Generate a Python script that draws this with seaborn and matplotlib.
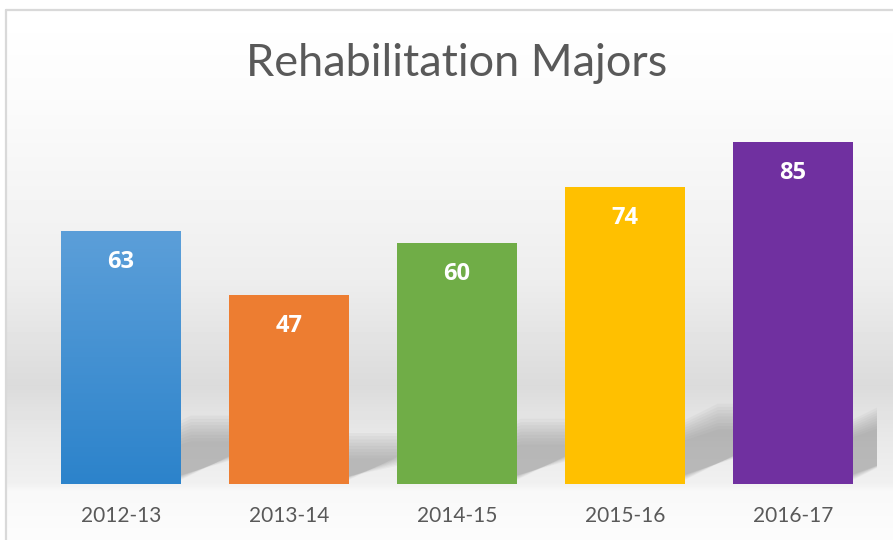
import matplotlib
matplotlib.use("Agg")

import numpy as np
import pandas as pd
import matplotlib.pyplot as plt
import seaborn as sns
from matplotlib.colors import LinearSegmentedColormap
from matplotlib.patches import Polygon

years = ["2012-13", "2013-14", "2014-15", "2015-16", "2016-17"]
majors = [63, 47, 60, 74, 85]
bar_colors = ["#4a94d4", "#ed7d31", "#70ad47", "#ffc000", "#7030a0"]
title = "Rehabilitation Majors"

sns.set_theme(style="white")
plt.rcParams["font.family"] = ["Lato", "DejaVu Sans"]

W, H = 893, 540
fig = plt.figure(figsize=(W / 100, H / 100), dpi=100)
fig.patch.set_facecolor("white")

# ---------- background: soft vertical gradient inside the chart frame ----------
bg = fig.add_axes([0, 0, 1, 1], zorder=0)
bg.set_axis_off()
stops_y = [0, 10, 100, 200, 280, 350, 385, 410, 440, 482, 490, 540]
stops_g = [255, 255, 251, 244, 237, 225, 219, 226, 233, 240, 248, 252]
rows = np.interp(np.arange(H), stops_y, stops_g) / 255.0
img = np.repeat(rows[:, None], W, axis=1)
img[:10, :] = 1.0
img[:, :7] = 1.0
bg.imshow(img, cmap="gray", vmin=0, vmax=1, extent=[0, W, H, 0], aspect="auto")
bg.plot([6, 6], [540, 10], color="#d9d9d9", lw=1.6)
bg.plot([6, 893], [10, 10], color="#d9d9d9", lw=1.6)
bg.set_xlim(0, W)
bg.set_ylim(H, 0)

# ---------- bars ----------
ax = fig.add_axes([37 / W, (H - 484) / H, 840 / W, 402 / H], zorder=1)
ax.patch.set_alpha(0)
df = pd.DataFrame({"year": years, "majors": majors})
sns.barplot(data=df, x="year", y="majors", hue="year", palette=bar_colors,
            width=0.714, legend=False, saturation=1, ax=ax, zorder=3)
ax.set_xlim(-0.5, len(years) - 0.5)
ax.set_ylim(0, 100)

bars = sorted(ax.patches, key=lambda p: p.get_x())
for p in bars:
    p.set_edgecolor("none")

# shadows cast to the right of each bar, drawn behind all bars
for p, v in zip(bars, majors):
    xl, xr = p.get_x(), p.get_x() + p.get_width()
    s = 0.27 * v
    dx = s * 0.0455
    for k in range(9):
        top = s - k * 0.8
        shift = k * 0.012
        poly = Polygon([(xl, 1.0), (xr - shift, 1.0), (xr + dx - shift, top), (xl + dx, top)],
                       closed=True, facecolor="#8c8c8c", edgecolor="none",
                       alpha=0.08, zorder=1)
        ax.add_patch(poly)

# gradient on the first (blue) bar
blue = LinearSegmentedColormap.from_list("blue", ["#2c83cb", "#5c9fd9"])
p0 = bars[0]
grad = np.linspace(0, 1, 256)[:, None]
im = ax.imshow(grad, cmap=blue, origin="lower", aspect="auto", zorder=4,
               extent=[p0.get_x(), p0.get_x() + p0.get_width(), 0, p0.get_height()])
im.set_clip_path(p0)
ax.set_xlim(-0.5, len(years) - 0.5)
ax.set_ylim(0, 100)

# value labels inside the bars
for p, v in zip(bars, majors):
    ax.annotate(str(v), (p.get_x() + p.get_width() / 2, v), xytext=(0, -31),
                textcoords="offset pixels", ha="center", va="center",
                color="white", fontsize=17, fontweight="bold",
                family=["Open Sans", "DejaVu Sans"], zorder=5)

ax.set_xlabel("")
ax.set_ylabel("")
ax.set_yticks([])
ax.tick_params(axis="x", length=0, pad=16, labelsize=15, labelcolor="#595959")
sns.despine(ax=ax, left=True, bottom=True)

fig.text(456.5 / W, 1 - 63 / H, title, ha="center", va="center",
         fontsize=32.5, color="#595959")

fig.savefig("out.png", dpi=100)
